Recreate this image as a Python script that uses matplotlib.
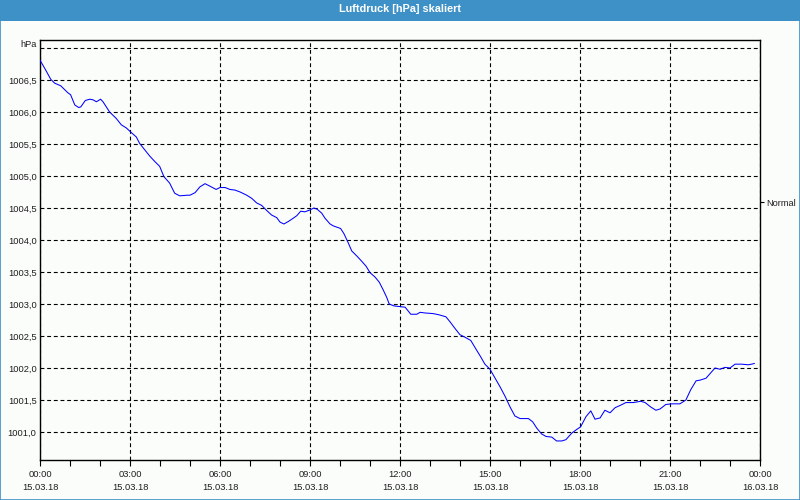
import matplotlib
matplotlib.use("Agg")
import matplotlib.pyplot as plt
from matplotlib.patches import Rectangle
from matplotlib.ticker import FixedLocator, MultipleLocator, FuncFormatter

# ---- data (hours since 15.03.18 00:00, pressure in hPa) ----
hours = [0.0, 0.16, 0.36, 0.49, 0.69, 0.93, 1.02, 1.16, 1.29, 1.36, 1.51, 1.66, 1.77, 1.88,
         2.02, 2.1, 2.32, 2.54, 2.71, 2.88, 3.04, 3.21, 3.32, 3.49, 3.66, 3.82, 3.99, 4.13,
         4.32, 4.49, 4.66, 4.91, 5.0, 5.17, 5.33, 5.5, 5.67, 5.87, 6.0, 6.17, 6.33, 6.5,
         6.67, 6.89, 7.06, 7.22, 7.39, 7.56, 7.72, 7.89, 8.0, 8.13, 8.28, 8.44, 8.56, 8.69,
         8.83, 9.0, 9.13, 9.24, 9.39, 9.5, 9.67, 9.78, 10.02, 10.13, 10.28, 10.39, 10.56,
         10.72, 10.87, 11.0, 11.17, 11.31, 11.44, 11.56, 11.64, 11.8, 12.0, 12.17, 12.24,
         12.36, 12.56, 12.67, 12.83, 13.11, 13.31, 13.53, 13.67, 13.83, 14.0, 14.17, 14.36,
         14.5, 14.67, 14.83, 15.0, 15.17, 15.33, 15.5, 15.67, 15.83, 16.0, 16.28, 16.42,
         16.56, 16.72, 16.87, 17.06, 17.22, 17.39, 17.53, 17.72, 17.89, 18.02, 18.2, 18.36,
         18.5, 18.67, 18.83, 19.0, 19.17, 19.36, 19.53, 19.78, 20.02, 20.17, 20.36, 20.53,
         20.67, 20.86, 21.06, 21.33, 21.53, 21.69, 21.87, 22.0, 22.2, 22.39, 22.5, 22.67,
         22.83, 23.0, 23.17, 23.39, 23.61, 23.72, 23.81]
pressure = [1006.81, 1006.68, 1006.51, 1006.45, 1006.41, 1006.30, 1006.27, 1006.11, 1006.07,
            1006.08, 1006.18, 1006.20, 1006.19, 1006.16, 1006.20, 1006.16, 1006.00, 1005.90,
            1005.80, 1005.75, 1005.68, 1005.61, 1005.51, 1005.41, 1005.31, 1005.23, 1005.15,
            1004.99, 1004.89, 1004.73, 1004.69, 1004.70, 1004.70, 1004.74, 1004.83, 1004.88,
            1004.84, 1004.79, 1004.82, 1004.82, 1004.79, 1004.78, 1004.75, 1004.70, 1004.65,
            1004.58, 1004.54, 1004.46, 1004.39, 1004.35, 1004.28, 1004.25, 1004.29, 1004.34,
            1004.38, 1004.45, 1004.44, 1004.47, 1004.50, 1004.48, 1004.42, 1004.34, 1004.25,
            1004.22, 1004.18, 1004.10, 1003.95, 1003.83, 1003.75, 1003.67, 1003.59, 1003.49,
            1003.42, 1003.34, 1003.22, 1003.10, 1003.00, 1002.97, 1002.96, 1002.95, 1002.91,
            1002.84, 1002.84, 1002.87, 1002.86, 1002.85, 1002.83, 1002.80, 1002.72, 1002.62,
            1002.52, 1002.48, 1002.43, 1002.32, 1002.19, 1002.06, 1001.98, 1001.84, 1001.71,
            1001.56, 1001.39, 1001.25, 1001.21, 1001.21, 1001.16, 1001.06, 1000.97, 1000.93,
            1000.92, 1000.86, 1000.86, 1000.88, 1000.98, 1001.04, 1001.08, 1001.24, 1001.33,
            1001.20, 1001.22, 1001.34, 1001.30, 1001.38, 1001.42, 1001.46, 1001.46, 1001.48,
            1001.46, 1001.39, 1001.34, 1001.36, 1001.43, 1001.44, 1001.44, 1001.50, 1001.66,
            1001.80, 1001.81, 1001.84, 1001.94, 1002.00, 1001.98, 1002.01, 1002.00, 1002.06,
            1002.06, 1002.05, 1002.06, 1002.07]

tick_hours = [0, 3, 6, 9, 12, 15, 18, 21, 24]
tick_labels = ["00:00\n15.03.18", "03:00\n15.03.18", "06:00\n15.03.18", "09:00\n15.03.18",
               "12:00\n15.03.18", "15:00\n15.03.18", "18:00\n15.03.18", "21:00\n15.03.18",
               "00:00\n16.03.18"]
y_grid = [1001.0, 1001.5, 1002.0, 1002.5, 1003.0, 1003.5, 1004.0, 1004.5, 1005.0,
          1005.5, 1006.0, 1006.5, 1007.0]
normal_level = 1004.59
title = "Luftdruck [hPa] skaliert"
unit = "hPa"

BG = "#fbfdfb"
BLUE = "#3d91c7"
TXT = "#1e1e1e"
FS = 6.7

plt.rcParams['font.family'] = ['Liberation Sans', 'DejaVu Sans']
fig = plt.figure(figsize=(8, 5), dpi=100, facecolor=BG)

# title bar
fig.patches.append(Rectangle((0, 0.958), 1, 0.042, transform=fig.transFigure,
                             facecolor=BLUE, edgecolor='none', zorder=0))
fig.patches.append(Rectangle((0.0006, 0.001), 0.9988, 0.998, transform=fig.transFigure,
                             facecolor='none', edgecolor=BLUE, linewidth=1.2, zorder=5))
fig.text(0.5, 0.981, title, ha='center', va='center', color='white',
         fontsize=7.8, fontweight='bold')

ax = fig.add_axes([0.05, 0.08, 0.90, 0.84])
ax.set_facecolor(BG)
ax.plot(hours, pressure, color='#0000ff', linewidth=0.75, zorder=3)

ax.set_xlim(0, 24)
ax.set_ylim(1000.5625, 1007.125)

ax.xaxis.set_major_locator(FixedLocator(tick_hours))
ax.set_xticklabels(tick_labels, fontsize=FS, color=TXT, linespacing=1.6)
ax.xaxis.set_minor_locator(MultipleLocator(1))
ax.tick_params(axis='x', which='both', direction='out', length=4, width=0.8,
               color='black', pad=3)

ax.yaxis.set_major_locator(FixedLocator(y_grid))
ax.yaxis.set_major_formatter(FuncFormatter(
    lambda v, p: "" if v > 1006.9 else f"{v:.1f}".replace('.', ',')))
ax.tick_params(axis='y', which='both', length=0, labelsize=FS, labelcolor=TXT, pad=2.5)

ax.grid(True, which='major', color='black', linestyle=(0, (3.5, 2.5)), linewidth=0.8)
for s in ax.spines.values():
    s.set_color('black')
    s.set_linewidth(1.0)

ax.text(-0.004, 1007.06, unit, transform=ax.get_yaxis_transform(), ha='right',
        va='center', fontsize=FS, color=TXT)

ax2 = ax.twinx()
ax2.set_ylim(ax.get_ylim())
ax2.yaxis.set_major_locator(FixedLocator([normal_level]))
ax2.set_yticklabels(["Normal"], fontsize=FS, color=TXT)
ax2.tick_params(axis='y', direction='out', length=3, width=0.8, pad=1.2)
for s in ax2.spines.values():
    s.set_visible(False)

fig.savefig("out.png", dpi=100, facecolor=BG)
